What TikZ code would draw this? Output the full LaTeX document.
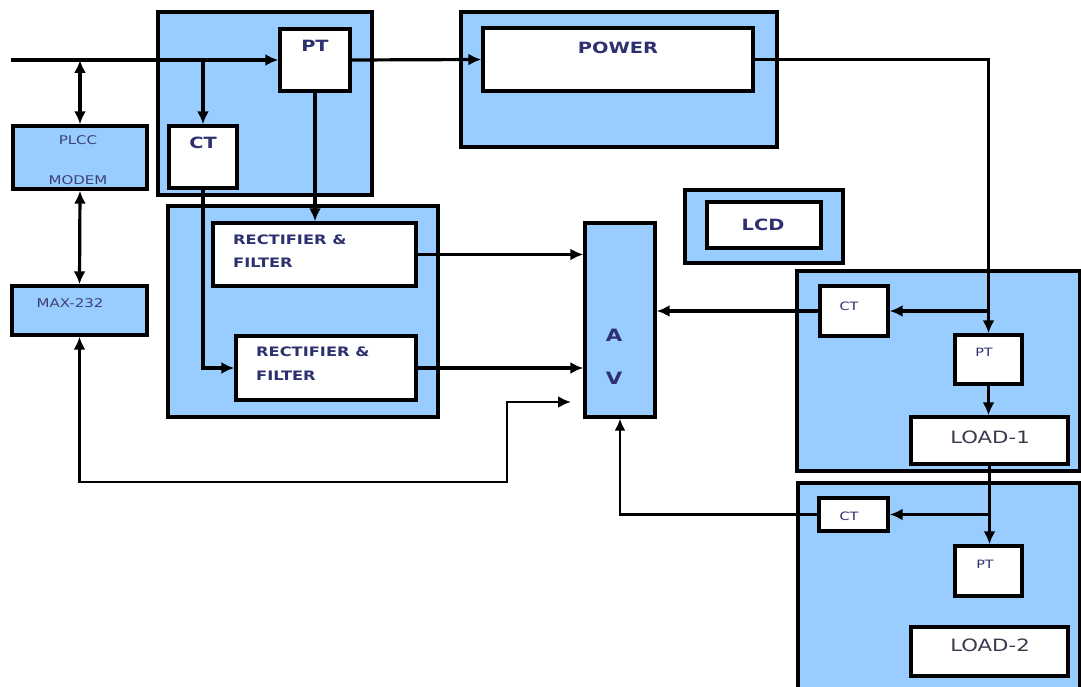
\documentclass[tikz,border=0pt]{standalone}
\usepackage{fontspec}
\setmainfont{DejaVu Sans}[FakeStretch=1.25]
\usetikzlibrary{arrows.meta,fit}
\definecolor{fillblue}{HTML}{99CCFF}
\definecolor{txtblue}{HTML}{2E3170}
\definecolor{txtgray}{HTML}{3A3A4E}
\begin{document}
\begin{tikzpicture}[x=1pt,y=-1pt,line join=miter,
  grp/.style={draw=black,line width=3.4pt,fill=fillblue,inner sep=0pt},
  wbox/.style={draw=black,line width=3.4pt,fill=white,inner sep=0pt},
  bbox/.style={draw=black,line width=3.4pt,fill=fillblue,inner sep=0pt},
  tip/.tip={Latex[length=13pt,width=12pt]},
  conn/.style={line width=3.2pt,-tip},
  dconn/.style={line width=3.2pt,tip-tip},
  thinconn/.style={line width=2.2pt,-{Latex[length=12pt,width=11pt]}},
  tb/.style={text=txtblue,font=\bfseries\fontsize{15.5}{16}\selectfont,inner sep=0pt},
  tr/.style={text=txtblue,font=\bfseries\fontsize{13}{14}\selectfont,inner sep=0pt,anchor=west},
  ts/.style={text=txtblue!80!gray,font=\fontsize{12}{13}\selectfont,inner sep=0pt},
  tsm/.style={text=txtblue,font=\fontsize{11.5}{12}\selectfont,inner sep=0pt},
  tav/.style={text=txtblue,font=\bfseries\fontsize{17}{18}\selectfont,inner sep=0pt},
  tload/.style={text=txtgray,font=\fontsize{17}{18}\selectfont,inner sep=0pt}
]
\useasboundingbox[fill=white] (0,0) rectangle (1081,687);

% group panels
\node[grp,fit={(158,12) (372,195)}] (g1) {};
\node[grp,fit={(168,206) (438,417)}] (g2) {};
\node[grp,fit={(461,12) (777,147)}] (g3) {};
\node[grp,fit={(685,190) (843,263)}] (g4) {};
\node[grp,fit={(797,271) (1080,471)}] (g5) {};
\node[grp,fit={(798,483) (1080,700)}] (g6) {};

% blocks
\node[wbox,fit={(280,29) (350,91)}] (pt) {};
\node[wbox,fit={(169,126) (237,188)}] (ct) {};
\node[bbox,fit={(13,126) (147,189)}] (plcc) {};
\node[bbox,fit={(12,286) (147,335)}] (max) {};
\node[wbox,fit={(213,223) (416,286)}] (r1) {};
\node[wbox,fit={(236,336) (416,400)}] (r2) {};
\node[bbox,fit={(585,223) (655,417)}] (av) {};
\node[wbox,fit={(483,28) (753,91)}] (pow) {};
\node[wbox,fit={(707,202) (821,248)}] (lcd) {};
\node[wbox,fit={(820,286) (888,336)}] (ct1) {};
\node[wbox,fit={(955,335) (1022,384)}] (pt1) {};
\node[wbox,fit={(911,417) (1068,464)}] (l1) {};
\node[wbox,fit={(819,498) (888,531)}] (ct2) {};
\node[wbox,fit={(955,546) (1022,596)}] (pt2) {};
\node[wbox,fit={(911,627) (1068,676)}] (l2) {};

% texts
\node[tb] (ptT) at (315,46) {PT};
\node[tb] (ctT) at (203,143) {CT};
\node[tb] (powT) at (618,48) {POWER};
\node[tr] (r1a) at (233,240) {RECTIFIER \&};
\node[tr] (r1b) at (233,263) {FILTER};
\node[tr] (r2a) at (256,352) {RECTIFIER \&};
\node[tr] (r2b) at (256,376) {FILTER};
\node[ts] (plccT) at (78,140) {PLCC};
\node[ts] (modemT) at (78,180) {MODEM};
\node[ts] (maxT) at (70,303) {MAX-232};
\node[tb] (lcdT) at (763,225) {LCD};
\node[tav] (aT) at (614,335) {A};
\node[tav] (vT) at (614,378) {V};
\node[tsm] (ct1T) at (849,306) {CT};
\node[tsm] (pt1T) at (984,352) {PT};
\node[tload] (l1T) at (990,437) {LOAD-1};
\node[tsm] (ct2T) at (849,516) {CT};
\node[tsm] (pt2T) at (985,564) {PT};
\node[tload] (l2T) at (990,645) {LOAD-2};

% connectors
\coordinate (in) at (11,60);
\coordinate (fbb) at (507,482);
\coordinate (fbin) at (571,402);
\draw[conn] (in) -- (pt.west);
\draw[dconn] (plcc.north |- in) -- (plcc.north);
\draw[dconn] (plcc.south) -- (max.north);
\draw[conn] (ct.north |- in) -- (ct.north);
\draw[conn] (pt.south) -- (pt.south |- r1.north);
\draw[conn] (ct.south) |- (r2.west);
\draw[conn] (r1.east) -- (r1.east -| av.west);
\draw[conn] (r2.east) -- (r2.east -| av.west);
\draw[dconn,line width=2.8pt] (max.south) |- (fbb) |- (fbin);
\draw[conn] (pt.east) -- (pow.west);
\draw[conn] (pow.east) -| (pt1.north);
\coordinate (j3) at (pt1.north |- ct1.east);
\draw[conn] (j3) -- (ct1.east);
\draw[conn] (ct1.west) -- (ct1.west -| av.east);
\draw[conn] (pt1.south) -- (pt1.south |- l1.north);
\draw[conn] (l1.south) -- (l1.south |- pt2.north);
\coordinate (j4) at (l1.south |- ct2.east);
\draw[conn] (j4) -- (ct2.east);
\draw[thinconn] (ct2.west) -| (av.south);
\end{tikzpicture}
\end{document}
